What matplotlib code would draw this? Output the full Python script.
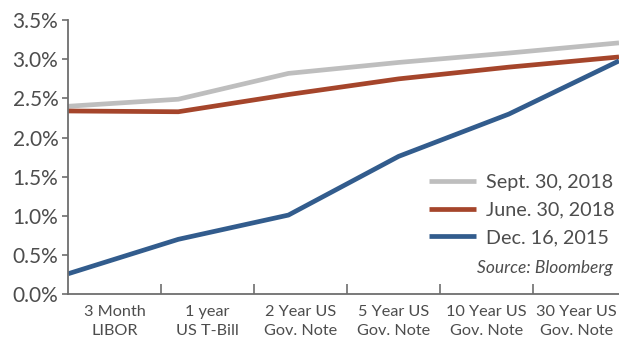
import matplotlib.pyplot as plt
from matplotlib.ticker import FuncFormatter

plt.rcParams['font.family'] = ['Lato', 'DejaVu Sans']

categories = ['3 Month\nLIBOR', '1 year\nUS T-Bill', '2 Year US\nGov. Note',
              '5 Year US\nGov. Note', '10 Year US\nGov. Note', '30 Year US\nGov. Note']
sept_2018 = [2.40, 2.49, 2.82, 2.96, 3.08, 3.21]
june_2018 = [2.34, 2.33, 2.55, 2.75, 2.90, 3.03]
dec_2015 = [0.26, 0.70, 1.01, 1.76, 2.30, 2.98]

txt = '#4d4d4d'
axis_col = '#6e6e6e'

fig = plt.figure(figsize=(6.19, 3.42), dpi=100)
ax = fig.add_axes([0.110, 0.140, 0.890, 0.801])

x = range(len(categories))
ax.plot(x, sept_2018, color='#bebebe', lw=3.4, label='Sept. 30, 2018', solid_capstyle='butt')
ax.plot(x, june_2018, color='#a5452b', lw=3.4, label='June. 30, 2018', solid_capstyle='butt')
ax.plot(x, dec_2015, color='#325c8d', lw=3.4, label='Dec. 16, 2015', solid_capstyle='butt')

ax.set_xlim(0, len(categories) - 1)
ax.set_ylim(0, 3.5)
ax.set_yticks([i * 0.5 for i in range(8)])
ax.yaxis.set_major_formatter(FuncFormatter(lambda v, p: f'{v:.1f}%'))
ax.tick_params(axis='y', labelsize=15, colors=axis_col, labelcolor=txt,
               length=4, width=1.2, pad=3)
ax.set_xticks([])

for s in ['top', 'right']:
    ax.spines[s].set_visible(False)
for s in ['left', 'bottom']:
    ax.spines[s].set_color(axis_col)
    ax.spines[s].set_linewidth(1.3)

# category labels sit on their own evenly spaced bins
cx = ax.twiny()
cx.set_position(ax.get_position())
width = 551 / 93
cx.set_xlim(0, width)
cx.xaxis.set_ticks_position('bottom')
cx.xaxis.set_label_position('bottom')
cx.set_xticks(range(1, len(categories)))
cx.set_xticklabels([])
cx.set_xticks([i + 0.5 for i in range(len(categories) - 1)] + [len(categories) - 0.53], minor=True)
cx.set_xticklabels(categories, minor=True, fontsize=11.7, color=txt, linespacing=1.4)
cx.tick_params(axis='x', which='major', direction='in', length=7, width=1.2, colors=axis_col)
cx.tick_params(axis='x', which='minor', length=0, pad=8)
for s in cx.spines.values():
    s.set_visible(False)

leg = ax.legend(loc='upper left', bbox_to_anchor=(0.655, 0.44), frameon=False,
                fontsize=14.2, handlelength=2.4, handletextpad=0.5, labelspacing=0.55,
                borderaxespad=0, borderpad=0)
for t in leg.get_texts():
    t.set_color(txt)

ax.text(0.988, 0.095, 'Source: Bloomberg', transform=ax.transAxes, ha='right',
        va='center', fontsize=12.5, style='italic', color=txt)

fig.savefig('out.png', dpi=100)
